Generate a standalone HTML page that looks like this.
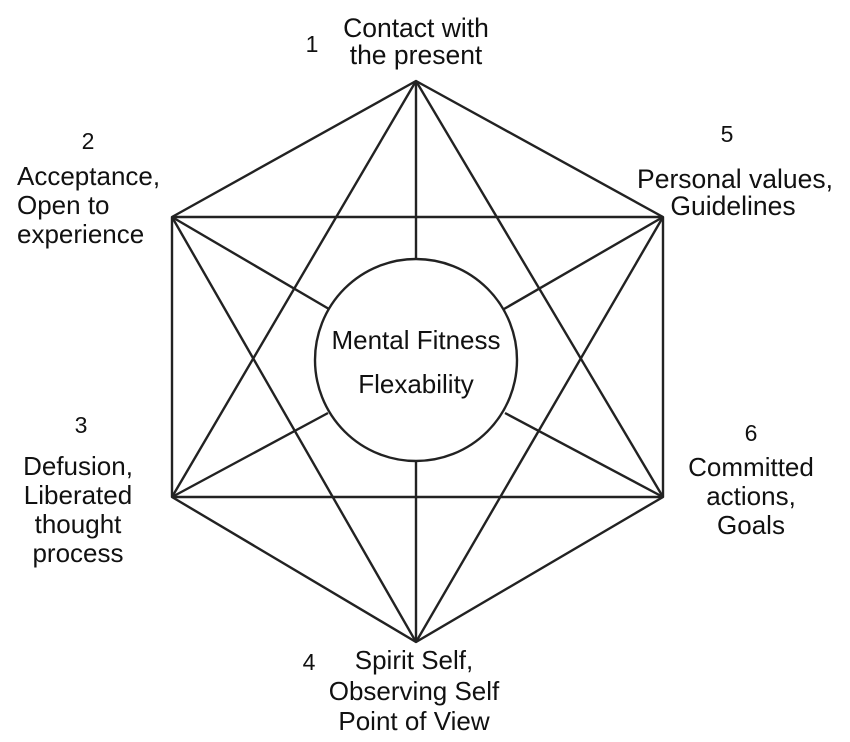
<!DOCTYPE html>
<html><head><style>
html,body{margin:0;padding:0;background:#fff;width:850px;height:742px;overflow:hidden}
svg text{font-family:"Liberation Sans",Arial,sans-serif;fill:#111}
</style></head><body>
<svg width="850" height="742" viewBox="0 0 850 742" xmlns="http://www.w3.org/2000/svg">
<g stroke="#222" stroke-width="2.4" fill="none" stroke-linejoin="round">
<polygon points="416,81 663,217 663,497 416,642 172,497 172,217"/>
<line x1="172" y1="217" x2="663" y2="217"/>
<line x1="172" y1="497" x2="663" y2="497"/>
<line x1="416" y1="81" x2="172" y2="497"/>
<line x1="416" y1="81" x2="663" y2="497"/>
<line x1="416" y1="642" x2="172" y2="217"/>
<line x1="416" y1="642" x2="663" y2="217"/>
<line x1="416" y1="81" x2="416" y2="258"/>
<line x1="416" y1="642" x2="416" y2="462"/>
<line x1="172" y1="217" x2="329" y2="309"/>
<line x1="663" y1="217" x2="504" y2="309"/>
<line x1="172" y1="497" x2="328" y2="413"/>
<line x1="663" y1="497" x2="505" y2="413"/>
<circle cx="416" cy="360" r="101"/>
</g>
<g font-size="26" text-anchor="middle">
<text x="416" y="349">Mental Fitness</text>
<text x="416" y="393">Flexability</text>
<text x="312" y="52" font-size="23">1</text>
<text x="416" y="37" font-size="26.5">Contact with</text>
<text x="416" y="64" font-size="26.5">the present</text>
<text x="88" y="149" font-size="23">2</text>
<text x="17" y="185" text-anchor="start">Acceptance,</text>
<text x="17" y="214" text-anchor="start">Open to</text>
<text x="17" y="243" text-anchor="start">experience</text>
<text x="727" y="142" font-size="23">5</text>
<text x="735" y="188" font-size="26.5">Personal values,</text>
<text x="733" y="215" font-size="26.5">Guidelines</text>
<text x="81" y="433" font-size="23">3</text>
<text x="78" y="475">Defusion,</text>
<text x="78" y="504">Liberated</text>
<text x="78" y="533">thought</text>
<text x="78" y="562">process</text>
<text x="751" y="441" font-size="23">6</text>
<text x="751" y="476">Committed</text>
<text x="751" y="505">actions,</text>
<text x="751" y="534">Goals</text>
<text x="309" y="670" font-size="23">4</text>
<text x="414" y="669">Spirit Self,</text>
<text x="414" y="700">Observing Self</text>
<text x="414" y="730">Point of View</text>
</g>
</svg>
</body></html>
